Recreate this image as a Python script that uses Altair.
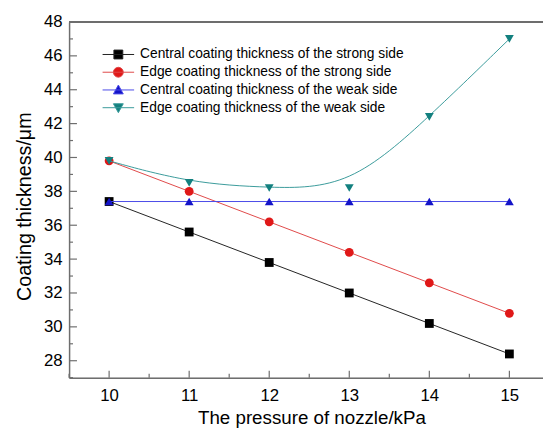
import altair as alt
import pandas as pd

# ---------------- data ----------------
pressure = [10, 11, 12, 13, 14, 15]
central_strong = [37.4, 35.6, 33.8, 32.0, 30.2, 28.4]
edge_strong = [39.8, 38.0, 36.2, 34.4, 32.6, 30.8]
central_weak = [37.4, 37.4, 37.4, 37.4, 37.4, 37.4]
edge_weak = [39.8, 38.5, 38.2, 38.2, 42.4, 47.0]

names = [
    "Central coating thickness of the strong side",
    "Edge coating thickness of the strong side",
    "Central coating thickness of the weak side",
    "Edge coating thickness of the weak side",
]
series_values = [central_strong, edge_strong, central_weak, edge_weak]

y_major = [28, 30, 32, 34, 36, 38, 40, 42, 44, 46, 48]
y_minor = [27, 29, 31, 33, 35, 37, 39, 41, 43, 45, 47]
x_major = [10, 11, 12, 13, 14, 15]
x_minor = [9.5, 10.5, 11.5, 12.5, 13.5, 14.5]

# ---------------- styles ----------------
marker_colors = ["#000000", "#e01818", "#1414c8", "#13807f"]
line_colors = ["#222222", "#e04848", "#4a4ae8", "#3a9a9a"]
marker_shapes = ["square", "circle", "triangle-up", "triangle-down"]
interps = ["linear", "linear", "linear", "basis"]
legend_paths = [
    "M-3.2,0H3.2M-0.9,-0.9H0.9V0.9H-0.9Z",
    "M-3.2,0H3.2M1,0A1,1,0,1,1,-1,0A1,1,0,1,1,1,0Z",
    "M-3.2,0H3.2M0,-1L1,0.8H-1Z",
    "M-3.2,0H3.2M0,1L1,-0.8H-1Z",
]

W, H = 481, 361
FONT = "Liberation Sans"
AXIS_COLOR = "#6e6e6e"

xscale = alt.Scale(domain=[9.5, 15.42], nice=False, zero=False)
yscale = alt.Scale(domain=[27, 48], nice=False, zero=False)

xaxis = alt.Axis(
    values=x_major, format="d", ticks=False, grid=False,
    labelPadding=10, labelFontSize=17, labelFont=FONT, labelColor="black",
    title="The pressure of nozzle/kPa", titleFontSize=19, titleFont=FONT,
    titleFontWeight="normal", titleColor="black", titlePadding=6, titleX=246,
    domainColor=AXIS_COLOR, domainWidth=1.5,
)
yaxis = alt.Axis(
    values=y_major, format="d", ticks=False, grid=False,
    labelPadding=7, labelFontSize=17, labelFont=FONT, labelColor="black",
    title="Coating thickness/μm", titleFontSize=20, titleFont=FONT,
    titleFontWeight="normal", titleColor="black", titlePadding=9, titleY=187,
    domainColor=AXIS_COLOR, domainWidth=1.5,
)


def X(field):
    return alt.X(field, type="quantitative", scale=xscale, axis=xaxis)


def Y(field):
    return alt.Y(field, type="quantitative", scale=yscale, axis=yaxis)


layers = []

# inside ticks
ymaj = pd.DataFrame({"v": y_major})
ymin = pd.DataFrame({"v": y_minor})
xmaj = pd.DataFrame({"v": x_major})
xmin = pd.DataFrame({"v": x_minor})
layers.append(alt.Chart(ymaj).mark_rule(color=AXIS_COLOR, strokeWidth=1.2).encode(
    y=Y("v"), x=alt.value(0), x2=alt.value(8)))
layers.append(alt.Chart(ymin).mark_rule(color=AXIS_COLOR, strokeWidth=1.2).encode(
    y=Y("v"), x=alt.value(0), x2=alt.value(4)))
layers.append(alt.Chart(xmaj).mark_rule(color=AXIS_COLOR, strokeWidth=1.2).encode(
    x=X("v"), y=alt.value(H), y2=alt.value(H - 7)))
layers.append(alt.Chart(xmin).mark_rule(color=AXIS_COLOR, strokeWidth=1.2).encode(
    x=X("v"), y=alt.value(H), y2=alt.value(H - 4)))

# top frame line
layers.append(alt.Chart(ymaj).mark_rule(color=AXIS_COLOR, strokeWidth=1.5).encode(
    x=alt.value(0), x2=alt.value(W), y=alt.value(0)))

# series
for name, vals, mc, lc, shp, itp in zip(names, series_values, marker_colors,
                                         line_colors, marker_shapes, interps):
    df = pd.DataFrame({"x": pressure, "y": vals, "series": name})
    layers.append(alt.Chart(df).mark_line(color=lc, strokeWidth=1, interpolate=itp).encode(
        x=X("x"), y=Y("y")))
    layers.append(alt.Chart(df).mark_point(filled=True, color=mc, shape=shp, size=80,
                                           opacity=1).encode(x=X("x"), y=Y("y")))

# legend (empty data layer, scales with explicit domains)
leg_df = pd.DataFrame({
    "x": pd.Series([], dtype=float),
    "y": pd.Series([], dtype=float),
    "series": pd.Series([], dtype=str),
})
legend = alt.Legend(
    orient="none", legendX=43, legendY=26, title=None, padding=0,
    labelFontSize=14, labelFont=FONT, labelColor="black", labelOffset=15,
    rowPadding=4, symbolSize=100, symbolStrokeWidth=1, labelLimit=400,
)
layers.append(alt.Chart(leg_df).mark_point(filled=True, opacity=1, strokeWidth=1).encode(
    x=X("x"), y=Y("y"),
    shape=alt.Shape("series:N", scale=alt.Scale(domain=names, range=legend_paths), legend=legend),
    fill=alt.Fill("series:N", scale=alt.Scale(domain=names, range=marker_colors), legend=legend),
    stroke=alt.Stroke("series:N", scale=alt.Scale(domain=names, range=line_colors), legend=legend),
))

chart = alt.layer(*layers).properties(
    width=W, height=H,
    padding={"left": 62, "top": 11, "right": 0, "bottom": 55},
    autosize=alt.AutoSizeParams(type="none"),
).configure_view(stroke=None).configure(background="white")

chart.save("out.html", embed_options={"renderer": "svg", "actions": False})
